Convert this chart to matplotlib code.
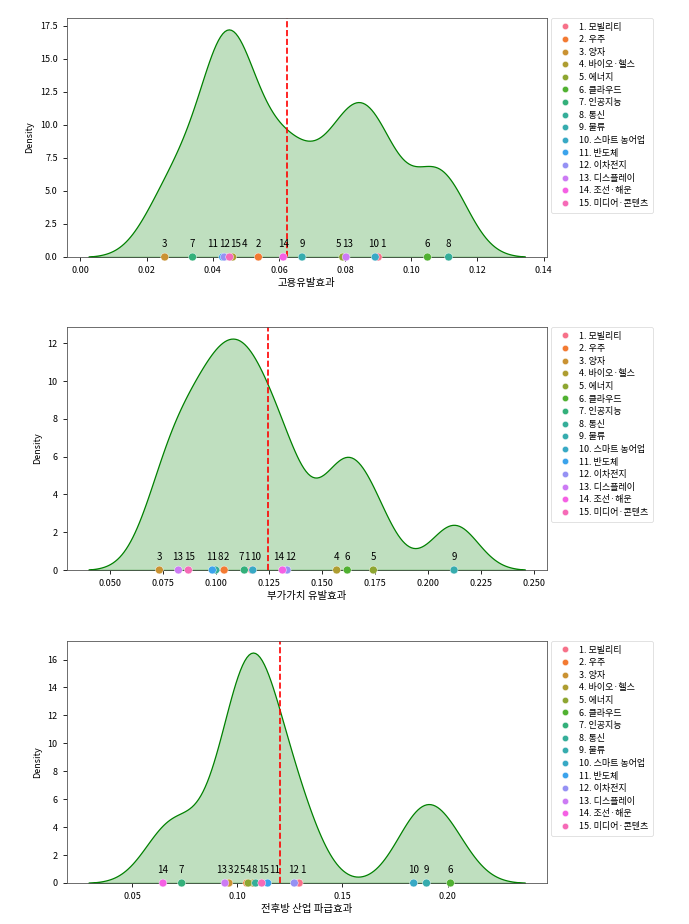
import matplotlib
matplotlib.use("Agg")
import matplotlib.pyplot as plt
from matplotlib.ticker import MultipleLocator
import seaborn as sns
import pandas as pd
import numpy as np

plt.rcParams['font.family'] = ['Noto Sans CJK KR', 'DejaVu Sans']
plt.rcParams['axes.unicode_minus'] = False

categories = ["1. 모빌리티", "2. 우주", "3. 양자", "4. 바이오·헬스", "5. 에너지",
              "6. 클라우드", "7. 인공지능", "8. 통신", "9. 물류", "10. 스마트 농어업",
              "11. 반도체", "12. 이차전지", "13. 디스플레이", "14. 조선·해운", "15. 미디어·콘텐츠"]

# 고용유발효과
employment = [0.0900, 0.0538, 0.0255, 0.0460, 0.0793, 0.1049, 0.0339, 0.1113,
              0.0670, 0.0891, 0.0430, 0.0435, 0.0803, 0.0613, 0.0451]
# 부가가치 유발효과
value_added = [0.1168, 0.1038, 0.0732, 0.1569, 0.1742, 0.1619, 0.1133, 0.0998,
               0.2123, 0.1173, 0.0982, 0.1335, 0.0822, 0.1313, 0.0869]
# 전후방 산업 파급효과
spillover = [0.1294, 0.1045, 0.0960, 0.1075, 0.1052, 0.2014, 0.0735, 0.1087,
             0.1900, 0.1839, 0.1144, 0.1271, 0.0941, 0.0646, 0.1116]

xlabels = ["고용유발효과", "부가가치 유발효과", "전후방 산업 파급효과"]
mean_lines = [0.0624, 0.1245, 0.1203]
x_steps = [0.02, 0.025, 0.05]
series = [employment, value_added, spillover]

W, H = 689, 924
fig = plt.figure(figsize=(W / 100, H / 100), dpi=100)
boxes = [(18, 257), (327, 570), (641, 883)]
left, right = 66.7, 546.7
palette = sns.color_palette("husl", len(categories))

all_labels = []
for i, (vals, xl, ml) in enumerate(zip(series, xlabels, mean_lines)):
    top, bot = boxes[i]
    ax = fig.add_axes([left / W, 1 - bot / H, (right - left) / W, (bot - top) / H])
    df = pd.DataFrame({"cat": categories, "val": vals, "y": 0.0})
    sns.kdeplot(data=df, x="val", fill=True, color="green", bw_adjust=0.5, ax=ax,
                linewidth=0.9)
    ax.axvline(ml, color="red", linestyle="--", linewidth=1.2)
    sns.scatterplot(data=df, x="val", y="y", hue="cat", palette=palette, s=32,
                    ax=ax, clip_on=False, zorder=5, edgecolor="white", linewidth=0.3)
    texts = []
    for c, v in zip(categories, vals):
        t = ax.annotate(c.split(".")[0], (v, 0), xytext=(0, 6), textcoords="offset points",
                        ha="center", va="bottom", fontsize=7.0)
        texts.append(t)
    all_labels.append((ax, vals, texts))
    ax.xaxis.set_major_locator(MultipleLocator(x_steps[i]))
    ax.set_xlabel(xl, fontsize=7.5, labelpad=2)
    ax.set_ylabel("Density", fontsize=6.5)
    ax.tick_params(labelsize=6.5, length=3, width=0.6)
    for s in ax.spines.values():
        s.set_linewidth(0.6)
        s.set_color("#555555")
    leg = ax.legend(loc="upper left", bbox_to_anchor=(1.009, 1.0), borderaxespad=0,
                    fontsize=6.5, markerscale=0.8, handletextpad=0.6, labelspacing=0.4,
                    borderpad=0.5, frameon=True)
    leg.get_frame().set_linewidth(0.5)

# spread overlapping point labels horizontally (simple 1-D repel)
fig.canvas.draw()
renderer = fig.canvas.get_renderer()
pad = 0.5
for ax, vals, texts in all_labels:
    xs = [ax.transData.transform((v, 0))[0] for v in vals]
    ws = [t.get_window_extent(renderer).width for t in texts]
    order = sorted(range(len(vals)), key=lambda k: (xs[k], k))
    groups = [[k] for k in order]

    def layout(g):
        total = sum(ws[k] for k in g) + pad * (len(g) - 1)
        c = np.mean([xs[k] for k in g])
        return c - total / 2, c + total / 2

    merged = True
    while merged:
        merged = False
        for j in range(len(groups) - 1):
            l1, r1 = layout(groups[j])
            l2, r2 = layout(groups[j + 1])
            if r1 + pad > l2:
                groups[j] = groups[j] + groups[j + 1]
                del groups[j + 1]
                merged = True
                break
    for g in groups:
        l, r = layout(g)
        pos = l
        for k in g:
            cx = pos + ws[k] / 2
            dx_pt = (cx - xs[k]) * 72.0 / fig.dpi
            texts[k].set_position((dx_pt, 6))
            pos += ws[k] + pad

fig.savefig("out.png", dpi=100)
